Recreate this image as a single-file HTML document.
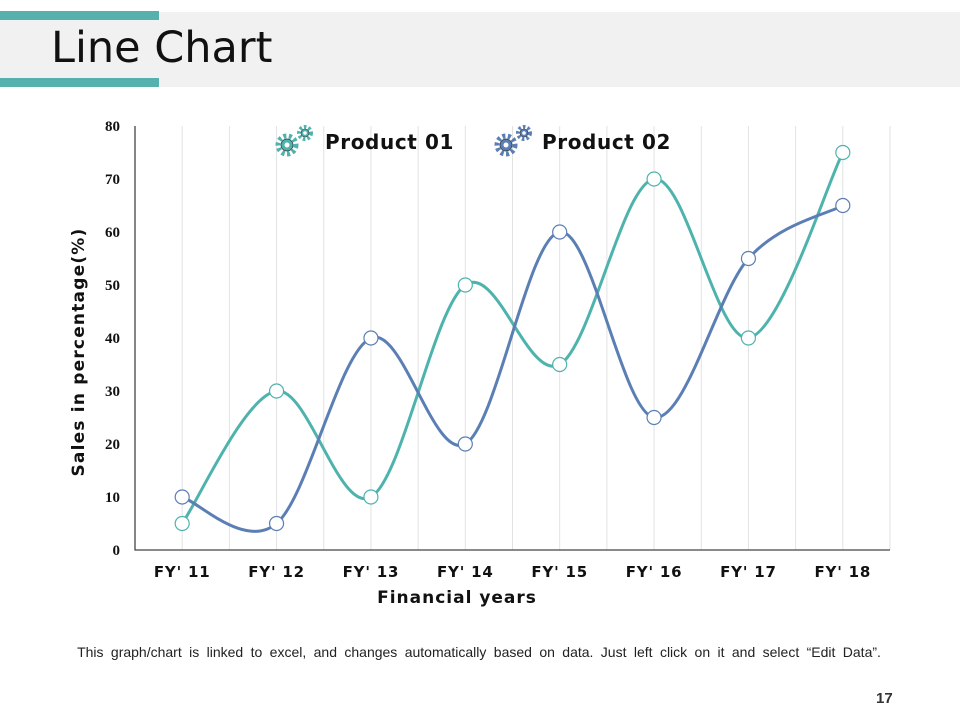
<!DOCTYPE html>
<html><head><meta charset="utf-8"><style>
body{margin:0;width:960px;height:720px;background:#fff;position:relative;overflow:hidden;font-family:"Liberation Sans",sans-serif}
.abs{position:absolute}
</style></head><body>
<div class="abs" style="left:0;top:12px;width:960px;height:75px;background:#f1f1f1"></div>
<div class="abs" style="left:0;top:11px;width:159px;height:9px;background:#56b0ad"></div>
<div class="abs" style="left:0;top:78px;width:159px;height:9px;background:#56b0ad"></div>
<div class="abs" style="left:51px;top:23px;font-family:'DejaVu Sans',sans-serif;font-size:43px;color:#111">Line Chart</div>
<svg class="abs" style="left:0;top:0" width="960" height="720">
<g id="grid"></g><g id="axes"></g><g id="lines"></g><g id="pts"></g><g id="labels"></g>
<g>
 <g transform="translate(287,145)">
  <circle r="9" fill="none" stroke="#4fb3ad" stroke-width="5" stroke-dasharray="3 2.5"/><circle r="6" fill="#4fb3ad" stroke="#333" stroke-width="0.7"/><circle r="2.5" fill="#fff"/>
  <circle cx="18" cy="-12" r="6" fill="none" stroke="#4fb3ad" stroke-width="4" stroke-dasharray="2.5 2"/><circle cx="18" cy="-12" r="4" fill="#4fb3ad" stroke="#333" stroke-width="0.6"/><circle cx="18" cy="-12" r="1.8" fill="#fff"/>
 </g>
 <text x="325" y="149" font-family="DejaVu Sans,sans-serif" font-weight="bold" font-size="20" letter-spacing="0.6" fill="#111">Product 01</text>
 <g transform="translate(506,145)">
  <circle r="9" fill="none" stroke="#5b7fb5" stroke-width="5" stroke-dasharray="3 2.5"/><circle r="6" fill="#5b7fb5" stroke="#333" stroke-width="0.7"/><circle r="2.5" fill="#fff"/>
  <circle cx="18" cy="-12" r="6" fill="none" stroke="#5b7fb5" stroke-width="4" stroke-dasharray="2.5 2"/><circle cx="18" cy="-12" r="4" fill="#5b7fb5" stroke="#333" stroke-width="0.6"/><circle cx="18" cy="-12" r="1.8" fill="#fff"/>
 </g>
 <text x="542" y="149" font-family="DejaVu Sans,sans-serif" font-weight="bold" font-size="20" letter-spacing="0.6" fill="#111">Product 02</text>
</g>
<text transform="translate(84,352) rotate(-90)" text-anchor="middle" font-family="DejaVu Sans,sans-serif" font-weight="bold" font-size="17" letter-spacing="1.2" fill="#111">Sales in percentage(%)</text>
<text x="457" y="603" text-anchor="middle" font-family="DejaVu Sans,sans-serif" font-weight="bold" font-size="17" letter-spacing="1" fill="#111">Financial years</text>
</svg>
<div class="abs" style="left:0;width:958px;top:644px;text-align:center;font-size:14px;word-spacing:3.5px;color:#222">This graph/chart is linked to excel, and changes automatically based on data. Just left click on it and select “Edit Data”.</div>
<div class="abs" style="left:876px;top:690px;font-size:15px;font-weight:bold;color:#333">17</div>
<script>
const categories=["FY' 11","FY' 12","FY' 13","FY' 14","FY' 15","FY' 16","FY' 17","FY' 18"];
const product01=[5,30,10,50,35,70,40,75];
const product02=[10,5,40,20,60,25,55,65];
const yTicks=[0,10,20,30,40,50,60,70,80];
const L=135,R=890,T=126,B=550,yMax=80;
const step=(R-L)/categories.length;
const xs=i=>L+step*(i+0.5);
const ys=v=>B-(v/yMax)*(B-T);
const NS="http://www.w3.org/2000/svg";
function mk(tag,attrs,parent){const e=document.createElementNS(NS,tag);for(const k in attrs)e.setAttribute(k,attrs[k]);document.getElementById(parent).appendChild(e);return e;}
for(let i=1;i<=categories.length*2;i++){
 const x=L+step*i/2;
 const g=mk('line',{x1:x,x2:x,y1:T,y2:B,stroke:'#e2e2e2','stroke-width':1},'grid');
 
 
}
const ax=mk('path',{d:`M${L},${T} V${B} H${R}`,fill:'none',stroke:'#444','stroke-width':1.3},'axes');


yTicks.forEach(v=>{
 const t=mk('text',{x:120,y:ys(v)+5,'text-anchor':'end','font-family':'Liberation Serif,serif','font-weight':'bold','font-size':15,fill:'#111'},'labels');
 t.textContent=v;
 
 
});
categories.forEach((c,i)=>{
 const t=mk('text',{x:xs(i),y:577,'text-anchor':'middle','font-family':'DejaVu Sans,sans-serif','font-weight':'bold','font-size':15,'letter-spacing':0.8,fill:'#111'},'labels');
 t.textContent=c;
 
 
});
function smooth(vals){
 const p=vals.map((v,i)=>[xs(i),ys(v)]);
 let d=`M${p[0][0]},${p[0][1]}`;
 for(let i=0;i<p.length-1;i++){
  const p0=p[Math.max(0,i-1)],p1=p[i],p2=p[i+1],p3=p[Math.min(p.length-1,i+2)];
  const c1=[p1[0]+(p2[0]-p0[0])/6,p1[1]+(p2[1]-p0[1])/6];
  const c2=[p2[0]-(p3[0]-p1[0])/6,p2[1]-(p3[1]-p1[1])/6];
  d+=` C${c1[0]},${c1[1]} ${c2[0]},${c2[1]} ${p2[0]},${p2[1]}`;
 }
 return d;
}
[[product01,'#4fb3ad','product-01'],[product02,'#5b7fb5','product-02']].forEach(([vals,col,name])=>{
 const l=mk('path',{d:smooth(vals),fill:'none',stroke:col,'stroke-width':3},'lines');
 
 
});
[[product01,'#4fb3ad','product-01'],[product02,'#5b7fb5','product-02']].forEach(([vals,col,name])=>{
 vals.forEach((v,i)=>{
  const c=mk('circle',{cx:xs(i),cy:ys(v),r:7,fill:'#fff',stroke:col,'stroke-width':1.2},'pts');
  
  
 });
});
</script>
</body></html>
